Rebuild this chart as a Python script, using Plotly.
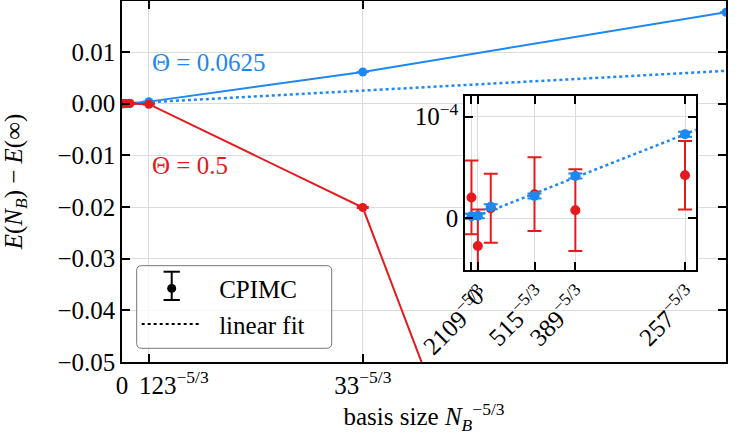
import plotly.graph_objects as go

# ---------------- data ----------------
# x positions = N_B^(-5/3) for the basis sizes used
basis_x = [0.0, 2.88e-6, 8.7e-6, 2.84e-5, 4.68e-5, 9.62e-5, 3.29e-4, 2.947e-3, 7.393e-3]

# Theta = 0.0625 (blue)
blue_E = [2.0e-6, 2.5e-6, 1.14e-5, 2.2e-5, 4.16e-5, 8.27e-5, 4.0e-4, 6.14e-3, 1.771e-2]
blue_err = [2.5e-6, 2.5e-6, 2.5e-6, 2.5e-6, 2.5e-6, 2.5e-6, 3e-6, 5e-6, 5e-6]

# Theta = 0.5 (red)
red_E = [2.05e-5, -2.73e-5, 1.0e-5, 2.37e-5, 8.0e-6, 4.24e-5, -1.0e-4, -2.01e-2, -2.05e-1]
red_err = [3.63e-5, 3.6e-5, 3.4e-5, 3.63e-5, 4.02e-5, 3.36e-5, 5e-5, 1e-4, 2e-4]

# linear fit (Theta = 0.0625)
fit_x = [0.0, 7.393e-3]
fit_y = [0.0, 6.36e-3]

# tick labels
main_xticks = [0.0, 3.29e-4, 2.947e-3, 7.393e-3]
main_xtext = ["0", "\u00a0" * 8 + "123<sup>\u22125/3</sup>", "33<sup>\u22125/3</sup>", "19<sup>\u22125/3</sup>"]
main_yticks = [-0.05, -0.04, -0.03, -0.02, -0.01, 0.0, 0.01]
main_ytext = ["\u22120.05", "\u22120.04", "\u22120.03", "\u22120.02", "\u22120.01", "0.00", "0.01"]
inset_xticks = [0.0, 2.88e-6, 2.84e-5, 4.68e-5, 9.62e-5]
inset_xtext = ["0", "2109<sup>\u22125/3</sup>", "515<sup>\u22125/3</sup>", "389<sup>\u22125/3</sup>", "257<sup>\u22125/3</sup>"]
inset_yticks = [0.0, 1e-4]
inset_ytext = ["0", "10<sup>\u22124</sup>"]

BLUE = "#1E88F0"
RED = "#E41A1C"
FONT = "Liberation Serif"
FS = 25
N_INSET = 6  # points shown in the inset

fig = go.Figure()

# ---------------- main panel ----------------
fig.add_trace(go.Scatter(x=fit_x, y=fit_y, mode="lines",
                         line=dict(color=BLUE, width=2.5, dash="dot"),
                         showlegend=False, hoverinfo="skip"))
fig.add_trace(go.Scatter(x=basis_x, y=blue_E, mode="lines+markers",
                         line=dict(color=BLUE, width=2), marker=dict(color=BLUE, size=9),
                         error_y=dict(type="data", array=blue_err, color=BLUE, thickness=2, width=6),
                         showlegend=False))
fig.add_trace(go.Scatter(x=basis_x, y=red_E, mode="lines+markers",
                         line=dict(color=RED, width=2), marker=dict(color=RED, size=9),
                         error_y=dict(type="data", array=red_err, color=RED, thickness=2, width=6),
                         showlegend=False))

# ---------------- inset ----------------
fig.add_trace(go.Scatter(x=fit_x, y=fit_y, mode="lines", xaxis="x2", yaxis="y2",
                         line=dict(color=BLUE, width=2.5, dash="dot"),
                         showlegend=False, hoverinfo="skip"))
fig.add_trace(go.Scatter(x=basis_x[:N_INSET], y=red_E[:N_INSET], mode="markers", xaxis="x2", yaxis="y2",
                         marker=dict(color=RED, size=10),
                         error_y=dict(type="data", array=red_err[:N_INSET], color=RED, thickness=2, width=7),
                         showlegend=False))
fig.add_trace(go.Scatter(x=basis_x[:N_INSET], y=blue_E[:N_INSET], mode="markers", xaxis="x2", yaxis="y2",
                         marker=dict(color=BLUE, size=10),
                         error_y=dict(type="data", array=blue_err[:N_INSET], color=BLUE, thickness=2, width=7),
                         showlegend=False))

# ---------------- legend entries ----------------
fig.add_trace(go.Scatter(x=[None], y=[None], mode="markers", name="\u00a0\u00a0CPIMC",
                         marker=dict(color="black", size=9), legendgroup="a"))
fig.add_trace(go.Scatter(x=[None], y=[None], mode="lines", name="\u00a0\u00a0linear fit",
                         line=dict(color="black", width=2, dash="dot"), legendgroup="b"))

axis_common = dict(ticks="inside", ticklen=8, tickwidth=1.5, tickcolor="black",
                   showline=True, linecolor="black", linewidth=1.5, mirror="ticks",
                   showgrid=True, gridcolor="#dcdcdc", gridwidth=1, zeroline=False,
                   automargin=False,
                   tickfont=dict(family=FONT, size=FS, color="black"))

# legend frame (rounded, semi-transparent) and the error-bar glyph of the legend key
L, R, T, B = 0.0243, 0.3472, 0.2668, 0.0380
rx, ry = 0.0083, 0.0139
frame_path = (f"M{L+rx},{B} L{R-rx},{B} Q{R},{B} {R},{B+ry} L{R},{T-ry} Q{R},{T} {R-rx},{T} "
              f"L{L+rx},{T} Q{L},{T} {L},{T-ry} L{L},{B+ry} Q{L},{B} {L+rx},{B} Z")
ex, ey0, ey1, ecap = 0.0823, 0.1717, 0.2501, 0.0135
shapes = [
    dict(type="path", path=frame_path, xref="paper", yref="paper", layer="above",
         fillcolor="rgba(255,255,255,0.8)", line=dict(color="#777777", width=1)),
    dict(type="line", xref="paper", yref="paper", x0=ex, x1=ex, y0=ey0, y1=ey1,
         layer="above", line=dict(color="black", width=2)),
    dict(type="line", xref="paper", yref="paper", x0=ex - ecap, x1=ex + ecap, y0=ey0, y1=ey0,
         layer="above", line=dict(color="black", width=2)),
    dict(type="line", xref="paper", yref="paper", x0=ex - ecap, x1=ex + ecap, y0=ey1, y1=ey1,
         layer="above", line=dict(color="black", width=2)),
]

fig.update_layout(
    width=747, height=436,
    margin=dict(l=122, r=21, t=1, b=74),
    paper_bgcolor="white", plot_bgcolor="white",
    font=dict(family=FONT, size=FS, color="black"),
    xaxis=dict(range=[0, 7.393e-3], tickmode="array", tickvals=main_xticks, ticktext=main_xtext,
               tickangle=0,
               title=dict(text="basis size <i>N</i><sub><i>B</i></sub><sup>\u22125/3</sup>",
                          font=dict(family=FONT, size=FS), standoff=4),
               **axis_common),
    yaxis=dict(range=[-0.05, 0.01988], tickmode="array", tickvals=main_yticks, ticktext=main_ytext,
               title=dict(text="<i>E</i>(<i>N</i><sub><i>B</i></sub>) \u2212 <i>E</i>(\u221e)",
                          font=dict(family=FONT, size=FS), standoff=28),
               **axis_common),
    xaxis2=dict(domain=[0.5679, 0.9498], anchor="y2", range=[-2.9e-6, 1.01e-4],
                tickmode="array", tickvals=inset_xticks, ticktext=inset_xtext, tickangle=-45,
                ticklabelshift=5,
                **axis_common),
    yaxis2=dict(domain=[0.2548, 0.7368], anchor="x2", range=[-5.09e-5, 1.204e-4],
                tickmode="array", tickvals=inset_yticks, ticktext=inset_ytext,
                **axis_common),
    legend=dict(x=0.0243, y=0.2668, xanchor="left", yanchor="top",
                bgcolor="rgba(0,0,0,0)", borderwidth=0,
                font=dict(family=FONT, size=FS, color="black"),
                tracegroupgap=0, itemwidth=60),
    shapes=shapes,
    annotations=[
        dict(text="\u0398 = 0.0625", xref="paper", yref="paper", x=0.046, y=0.829,
             xanchor="left", yanchor="middle", showarrow=False,
             font=dict(family=FONT, size=FS, color=BLUE)),
        dict(text="\u0398 = 0.5", xref="paper", yref="paper", x=0.046, y=0.543,
             xanchor="left", yanchor="middle", showarrow=False,
             font=dict(family=FONT, size=FS, color=RED)),
    ],
)

fig.write_html("out.html", config={"displayModeBar": False},
               post_script="document.body.style.margin='0px';")
